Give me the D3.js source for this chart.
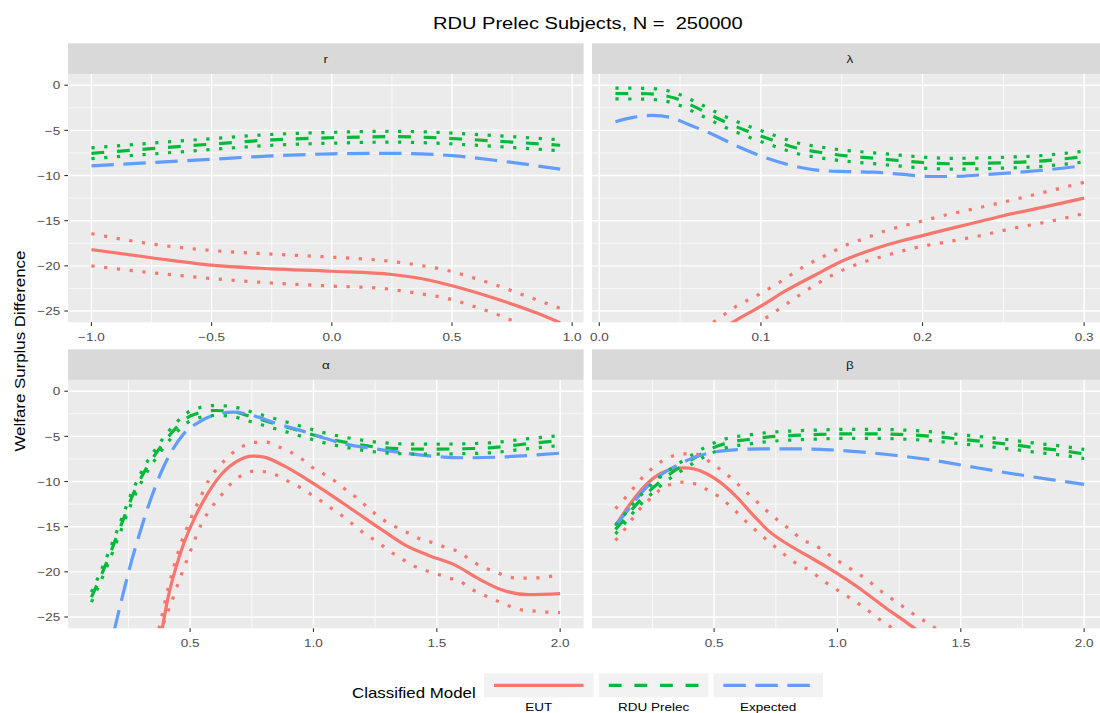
<!DOCTYPE html>
<html><head><meta charset="utf-8">
<script src="https://cdn.jsdelivr.net/npm/d3@7"></script>
<style>
body{margin:0;background:#fff;overflow:hidden}
svg{display:block}
text{font-family:"Liberation Sans",Arial,Helvetica,sans-serif}
</style>
</head><body><svg id="c" width="1100" height="713"></svg>
<script>
// ---------------- DATA ----------------
const chartTitle = "RDU Prelec Subjects, N =  250000";
const yTitle = "Welfare Surplus Difference";
const legendTitle = "Classified Model";
const modelNames = ["EUT", "RDU Prelec", "Expected"];
const panelNames = ["r", "λ", "α", "β"];
const yLimits = [-25, 0];
const yTicks = [-25, -20, -15, -10, -5, 0];
const rTicks = [-1.0, -0.5, 0.0, 0.5, 1.0];
const lTicks = [0.0, 0.1, 0.2, 0.3];
const aTicks = [0.5, 1.0, 1.5, 2.0];
const bTicks = [0.5, 1.0, 1.5, 2.0];

// ---- r ----
const r_EUT = [[-1,-18.2],[-0.75,-19.1],[-0.5,-19.93],[-0.25,-20.33],[0,-20.6],[0.25,-20.96],[0.37,-21.4],[0.5,-22.2],[0.69,-23.7],[0.85,-25.2],[0.95,-26.3]];
const r_EUT_hi = [[-1,-16.43],[-0.78,-17.46],[-0.5,-18.3],[-0.25,-18.7],[0,-19.04],[0.21,-19.4],[0.37,-19.96],[0.48,-20.5],[0.58,-21.25],[0.69,-22.2],[0.79,-23.16],[0.95,-24.7]];
const r_EUT_lo = [[-1,-20.0],[-0.84,-20.5],[-0.5,-21.4],[-0.25,-21.9],[0,-22.24],[0.21,-22.5],[0.37,-23.1],[0.48,-23.6],[0.58,-24.4],[0.69,-25.4],[0.79,-26.5],[0.95,-28.1]];
const r_RDU_x  = [-1,-0.75,-0.5,-0.25,0,0.25,0.4,0.56,0.75,0.95];
const r_RDU    = [-7.54,-7.02,-6.52,-6.05,-5.82,-5.7,-5.78,-5.99,-6.3,-6.65];
const r_RDU_hi = [-6.94,-6.42,-5.92,-5.45,-5.22,-5.1,-5.18,-5.39,-5.7,-6.05];
const r_RDU_lo = [-8.14,-7.62,-7.12,-6.65,-6.42,-6.3,-6.38,-6.59,-6.9,-7.25];
const r_EXP = [[-1,-8.93],[-0.75,-8.57],[-0.5,-8.2],[-0.25,-7.83],[0,-7.6],[0.21,-7.54],[0.37,-7.6],[0.5,-7.8],[0.69,-8.35],[0.95,-9.3]];

// ---- lambda ----
const l_EUT = [[0.01,-36],[0.03,-33],[0.05,-30],[0.07,-27.6],[0.083,-26.2],[0.1,-24.45],[0.116,-22.7],[0.133,-21.07],[0.15,-19.49],[0.17,-18.13],[0.186,-17.28],[0.2,-16.65],[0.219,-15.8],[0.236,-15.07],[0.25,-14.45],[0.277,-13.42],[0.3,-12.5]];
const l_EUT_hi = [[0.01,-33],[0.04,-29.5],[0.071,-26.2],[0.084,-24.56],[0.1,-23.05],[0.112,-21.76],[0.126,-20.15],[0.141,-18.75],[0.155,-17.54],[0.164,-16.98],[0.178,-16.07],[0.195,-15.26],[0.211,-14.52],[0.234,-13.6],[0.25,-12.94],[0.273,-11.95],[0.3,-10.75]];
const l_EUT_lo = [[0.01,-39],[0.05,-33],[0.08,-28.5],[0.102,-25.9],[0.117,-24.08],[0.133,-22.17],[0.147,-20.77],[0.162,-19.67],[0.176,-18.93],[0.195,-18.01],[0.215,-17.35],[0.236,-16.65],[0.257,-15.8],[0.279,-15.07],[0.3,-14.2]];
const l_RDU_x  = [0.01,0.03,0.046,0.061,0.077,0.091,0.107,0.122,0.139,0.153,0.17,0.186,0.203,0.219,0.236,0.252,0.269,0.285,0.3];
const l_RDU    = [-0.92,-0.95,-1.4,-2.57,-4.0,-5.04,-6.07,-6.95,-7.5,-7.83,-8.09,-8.35,-8.6,-8.7,-8.65,-8.57,-8.45,-8.2,-7.9];
const l_RDU_hi = [-0.32,-0.35,-0.8,-1.97,-3.4,-4.44,-5.47,-6.35,-6.9,-7.23,-7.49,-7.75,-8.0,-8.1,-8.05,-7.97,-7.85,-7.6,-7.3];
const l_RDU_lo = [-1.52,-1.55,-2.0,-3.17,-4.6,-5.64,-6.67,-7.55,-8.1,-8.43,-8.69,-8.95,-9.2,-9.3,-9.25,-9.17,-9.05,-8.8,-8.5];
const l_EXP = [[0.01,-4.04],[0.021,-3.57],[0.033,-3.35],[0.044,-3.57],[0.056,-4.41],[0.071,-5.51],[0.085,-6.73],[0.1,-7.83],[0.12,-8.93],[0.137,-9.45],[0.153,-9.56],[0.17,-9.63],[0.186,-9.85],[0.205,-10.11],[0.219,-10.11],[0.236,-9.93],[0.257,-9.67],[0.277,-9.37],[0.3,-8.9]];

// ---- alpha ----
const a_EUT = [[0.1,-62],[0.2,-50],[0.3,-37.5],[0.35,-31.5],[0.388,-26.1],[0.411,-22.8],[0.443,-19.47],[0.474,-16.89],[0.52,-13.94],[0.575,-11.17],[0.629,-9.14],[0.691,-7.74],[0.753,-7.19],[0.8,-7.3],[0.877,-8.22],[0.97,-9.7],[1.064,-11.36],[1.172,-13.38],[1.281,-15.41],[1.374,-17.07],[1.467,-18.18],[1.576,-19.28],[1.669,-20.76],[1.762,-21.98],[1.871,-22.53],[2.0,-22.42]];
const a_EUT_hi = [[0.1,-58],[0.3,-34],[0.38,-25.55],[0.411,-21.83],[0.458,-17.26],[0.497,-14.49],[0.536,-12.09],[0.575,-9.88],[0.621,-8.22],[0.66,-7.12],[0.707,-6.19],[0.753,-5.68],[0.807,-5.64],[0.854,-6.12],[0.908,-6.75],[0.955,-7.56],[0.994,-8.41],[1.04,-9.14],[1.087,-9.96],[1.126,-10.8],[1.172,-11.73],[1.211,-12.65],[1.25,-13.57],[1.297,-14.49],[1.343,-15.15],[1.39,-15.78],[1.436,-16.41],[1.491,-16.81],[1.537,-17.33],[1.592,-17.81],[1.638,-18.73],[1.685,-19.47],[1.731,-19.91],[1.778,-20.46],[1.832,-20.69],[1.887,-20.69],[1.941,-20.58],[2.0,-20.32]];
const a_EUT_lo = [[0.1,-66],[0.3,-36],[0.39,-25.9],[0.427,-23.16],[0.466,-20.2],[0.505,-17.44],[0.543,-14.86],[0.598,-12.46],[0.637,-11.17],[0.668,-10.18],[0.714,-9.25],[0.761,-8.85],[0.815,-8.96],[0.862,-9.44],[0.908,-10.14],[0.955,-10.8],[1.0,-11.61],[1.048,-12.46],[1.087,-13.27],[1.134,-14.12],[1.172,-15.04],[1.219,-15.97],[1.265,-16.78],[1.304,-17.63],[1.351,-18.44],[1.397,-19.21],[1.444,-19.76],[1.498,-20.21],[1.544,-20.65],[1.592,-21.02],[1.638,-21.87],[1.693,-22.6],[1.74,-23.16],[1.786,-23.71],[1.84,-24.19],[1.894,-24.34],[1.941,-24.45],[2.0,-24.52]];
const a_RDU_x  = [0.1,0.148,0.186,0.225,0.264,0.31,0.365,0.427,0.505,0.598,0.66,0.753,0.846,0.94,1.033,1.126,1.234,1.359,1.467,1.592,1.716,1.84,2.0];
const a_RDU    = [-22.8,-19.84,-17.26,-14.49,-11.73,-9.14,-6.75,-4.54,-2.69,-2.14,-2.21,-2.88,-3.61,-4.35,-5.09,-5.64,-6.12,-6.38,-6.42,-6.38,-6.27,-5.9,-5.46];
const a_RDU_hi = [-22.25,-19.29,-16.71,-13.94,-11.18,-8.59,-6.2,-3.99,-2.14,-1.59,-1.66,-2.33,-3.06,-3.8,-4.54,-5.09,-5.57,-5.83,-5.87,-5.83,-5.72,-5.35,-4.91];
const a_RDU_lo = [-23.35,-20.39,-17.81,-15.04,-12.28,-9.69,-7.3,-5.09,-3.24,-2.69,-2.76,-3.43,-4.16,-4.9,-5.64,-6.19,-6.67,-6.93,-6.97,-6.93,-6.82,-6.45,-6.01];
const a_EXP = [[0.1,-37],[0.15,-31.5],[0.194,-26.3],[0.225,-22.8],[0.256,-19.47],[0.295,-15.78],[0.334,-12.46],[0.38,-9.14],[0.427,-6.56],[0.474,-4.72],[0.536,-3.43],[0.613,-2.51],[0.675,-2.32],[0.753,-2.69],[0.846,-3.54],[0.94,-4.28],[1.033,-5.09],[1.126,-5.83],[1.25,-6.38],[1.374,-6.86],[1.498,-7.23],[1.623,-7.37],[1.747,-7.3],[1.871,-7.12],[2.0,-6.86]];

// ---- beta ----
const b_EUT = [[0.1,-14.9],[0.139,-13.27],[0.18,-11.73],[0.227,-10.25],[0.281,-9.14],[0.335,-8.59],[0.376,-8.48],[0.416,-8.59],[0.47,-9.14],[0.524,-10.07],[0.592,-11.73],[0.659,-13.75],[0.727,-15.6],[0.795,-16.89],[0.876,-18.18],[0.957,-19.47],[1.038,-20.87],[1.119,-22.42],[1.2,-24.08],[1.268,-25.37],[1.315,-26.3],[1.5,-30],[2.0,-40]];
const b_EUT_hi = [[0.1,-13.0],[0.139,-11.84],[0.173,-10.73],[0.207,-9.62],[0.247,-8.59],[0.288,-7.74],[0.335,-7.15],[0.382,-6.93],[0.436,-7.0],[0.488,-7.96],[0.531,-8.78],[0.572,-9.7],[0.612,-10.69],[0.653,-11.73],[0.693,-12.72],[0.734,-13.75],[0.774,-14.6],[0.815,-15.49],[0.862,-16.52],[0.903,-16.96],[0.95,-17.81],[0.995,-18.66],[1.038,-19.4],[1.085,-20.21],[1.127,-21.02],[1.169,-21.98],[1.214,-22.86],[1.258,-23.71],[1.301,-24.56],[1.349,-25.37],[1.389,-26.1],[1.6,-30],[2.0,-38]];
const b_EUT_lo = [[0.1,-16.52],[0.136,-15.34],[0.169,-14.12],[0.2,-13.0],[0.236,-12.02],[0.277,-10.99],[0.322,-10.32],[0.376,-10.07],[0.43,-10.32],[0.477,-10.99],[0.522,-11.73],[0.562,-12.65],[0.601,-13.64],[0.639,-14.68],[0.68,-15.67],[0.72,-16.63],[0.761,-17.55],[0.801,-18.44],[0.846,-19.28],[0.889,-19.84],[0.934,-20.83],[0.98,-21.68],[1.024,-22.42],[1.069,-23.23],[1.114,-24.08],[1.157,-25.0],[1.2,-25.81],[1.4,-29.5],[2.0,-40]];
const b_RDU_x  = [0.1,0.132,0.166,0.2,0.234,0.268,0.322,0.362,0.43,0.497,0.565,0.632,0.714,0.822,0.93,1.038,1.146,1.254,1.376,1.484,1.592,1.7,1.808,1.903,2.0];
const b_RDU    = [-15.3,-14.31,-13.13,-12.09,-11.17,-10.32,-9.14,-8.41,-7.23,-6.27,-5.64,-5.38,-5.09,-4.9,-4.79,-4.72,-4.72,-4.79,-4.98,-5.27,-5.57,-5.9,-6.27,-6.56,-6.95];
const b_RDU_hi = [-14.8,-13.81,-12.63,-11.59,-10.67,-9.82,-8.64,-7.91,-6.73,-5.77,-5.14,-4.88,-4.59,-4.4,-4.29,-4.22,-4.22,-4.29,-4.48,-4.77,-5.07,-5.4,-5.77,-6.06,-6.45];
const b_RDU_lo = [-15.8,-14.81,-13.63,-12.59,-11.67,-10.82,-9.64,-8.91,-7.73,-6.77,-6.14,-5.88,-5.59,-5.4,-5.29,-5.22,-5.22,-5.29,-5.48,-5.77,-6.07,-6.4,-6.77,-7.06,-7.45];
const b_EXP = [[0.1,-14.86],[0.139,-13.57],[0.18,-12.09],[0.227,-10.62],[0.281,-9.33],[0.349,-8.22],[0.416,-7.37],[0.497,-6.75],[0.605,-6.45],[0.714,-6.38],[0.835,-6.38],[0.97,-6.49],[1.105,-6.75],[1.24,-7.12],[1.376,-7.6],[1.511,-8.22],[1.646,-8.85],[1.781,-9.44],[1.889,-9.88],[2.0,-10.32]];

// ---------------- BUILD ----------------
const zip = (xs, ys) => xs.map((x, i) => [x, ys[i]]);
const panels = [
  {name: panelNames[0], ticks: rTicks, col: 0, row: 0,
   EUT: r_EUT, EUT_hi: r_EUT_hi, EUT_lo: r_EUT_lo,
   RDU: zip(r_RDU_x, r_RDU), RDU_hi: zip(r_RDU_x, r_RDU_hi), RDU_lo: zip(r_RDU_x, r_RDU_lo), EXP: r_EXP},
  {name: panelNames[1], ticks: lTicks, col: 1, row: 0,
   EUT: l_EUT, EUT_hi: l_EUT_hi, EUT_lo: l_EUT_lo,
   RDU: zip(l_RDU_x, l_RDU), RDU_hi: zip(l_RDU_x, l_RDU_hi), RDU_lo: zip(l_RDU_x, l_RDU_lo), EXP: l_EXP},
  {name: panelNames[2], ticks: aTicks, col: 0, row: 1,
   EUT: a_EUT, EUT_hi: a_EUT_hi, EUT_lo: a_EUT_lo,
   RDU: zip(a_RDU_x, a_RDU), RDU_hi: zip(a_RDU_x, a_RDU_hi), RDU_lo: zip(a_RDU_x, a_RDU_lo), EXP: a_EXP},
  {name: panelNames[3], ticks: bTicks, col: 1, row: 1,
   EUT: b_EUT, EUT_hi: b_EUT_hi, EUT_lo: b_EUT_lo,
   RDU: zip(b_RDU_x, b_RDU), RDU_hi: zip(b_RDU_x, b_RDU_hi), RDU_lo: zip(b_RDU_x, b_RDU_lo), EXP: b_EXP}
];

const COL = {EUT: "#F8766D", RDU: "#00BA38", EXP: "#619CFF"};
const LW = 3.2;
const DASH = {EUT: null, RDU: `${4*LW},${4*LW}`, EXP: `${7*LW},${3*LW}`};
const DOT = `${LW},${3*LW}`;
const TS = 1.155; // horizontal text stretch

const svg = d3.select("#c");
const colX = [68, 592], panelW = 515.6;
const stripTop = [43.3, 349.3], stripH = 30.6, panelH = 248.4;
const fmt = d3.format(".1f");
const yfmt = d3.format("d");

function expand(lo, hi) { const d = (hi - lo) * 0.05; return [lo - d, hi + d]; }
const yDom = expand(yLimits[0], yLimits[1]);

function txt(parent, x, y, s, size, fill, anchor, rot) {
  return parent.append("text")
    .attr("transform", `translate(${x},${y})${rot ? " rotate(" + rot + ")" : ""} scale(${TS},1)`)
    .attr("text-anchor", anchor || "start").attr("font-size", size).attr("fill", fill)
    .style("white-space", "pre").text(s);
}

txt(svg, (colX[0] + colX[1] + panelW) / 2, 28.5, chartTitle, 17.4, "#000", "middle");
txt(svg, 24.5, (stripTop[0] + stripH + stripTop[1] + stripH + panelH) / 2, yTitle, 14.6, "#000", "middle", -90);

const defs = svg.append("defs");

panels.forEach((p, i) => {
  const x0 = colX[p.col], sTop = stripTop[p.row], pTop = sTop + stripH, pBot = pTop + panelH;
  const allX = [];
  ["EUT","EUT_hi","EUT_lo","RDU","RDU_hi","RDU_lo","EXP"].forEach(k => p[k].forEach(d => allX.push(d[0])));
  const xDom = expand(d3.min(allX), d3.max(allX));
  const x = d3.scaleLinear().domain(xDom).range([x0, x0 + panelW]);
  const y = d3.scaleLinear().domain(yDom).range([pBot, pTop]);

  const g = svg.append("g");
  g.append("rect").attr("x", x0).attr("y", pTop).attr("width", panelW).attr("height", panelH).attr("fill", "#EBEBEB");

  const step = p.ticks[1] - p.ticks[0];
  const xMinor = [];
  for (let k = -1; k < p.ticks.length; k++) {
    const v = p.ticks[0] + (k + 0.5) * step;
    if (v > xDom[0] && v < xDom[1]) xMinor.push(v);
  }
  const yStep = yTicks[1] - yTicks[0];
  const yMinor = [];
  for (let k = -1; k < yTicks.length; k++) {
    const v = yTicks[0] + (k + 0.5) * yStep;
    if (v > yDom[0] && v < yDom[1]) yMinor.push(v);
  }
  g.selectAll(".ymin").data(yMinor).join("line").attr("x1", x0).attr("x2", x0 + panelW)
    .attr("y1", d => y(d)).attr("y2", d => y(d)).attr("stroke", "#fff").attr("stroke-width", 0.71);
  g.selectAll(".xmin").data(xMinor).join("line").attr("y1", pTop).attr("y2", pBot)
    .attr("x1", d => x(d)).attr("x2", d => x(d)).attr("stroke", "#fff").attr("stroke-width", 0.71);
  g.selectAll(".ymaj").data(yTicks).join("line").attr("x1", x0).attr("x2", x0 + panelW)
    .attr("y1", d => y(d)).attr("y2", d => y(d)).attr("stroke", "#fff").attr("stroke-width", 1.42);
  g.selectAll(".xmaj").data(p.ticks).join("line").attr("y1", pTop).attr("y2", pBot)
    .attr("x1", d => x(d)).attr("x2", d => x(d)).attr("stroke", "#fff").attr("stroke-width", 1.42);

  defs.append("clipPath").attr("id", "clip" + i).append("rect")
    .attr("x", x0).attr("y", pTop).attr("width", panelW).attr("height", panelH);
  const lg = g.append("g").attr("clip-path", `url(#clip${i})`);
  const line = d3.line().x(d => x(d[0])).y(d => y(d[1])).curve(d3.curveMonotoneX);
  const draw = (data, color, dash) => lg.append("path").datum(data).attr("d", line)
    .attr("fill", "none").attr("stroke", color).attr("stroke-width", LW)
    .attr("stroke-dasharray", dash).attr("stroke-linecap", "butt").attr("stroke-linejoin", "round");

  draw(p.EUT, COL.EUT, DASH.EUT);
  draw(p.RDU, COL.RDU, DASH.RDU);
  draw(p.EXP, COL.EXP, DASH.EXP);
  draw(p.EUT_hi, COL.EUT, DOT);
  draw(p.EUT_lo, COL.EUT, DOT);
  draw(p.RDU_hi, COL.RDU, DOT);
  draw(p.RDU_lo, COL.RDU, DOT);

  g.append("rect").attr("x", x0).attr("y", sTop).attr("width", panelW).attr("height", stripH).attr("fill", "#D9D9D9");
  txt(g, x0 + panelW / 2, sTop + stripH / 2 + 4, p.name, 11.7, "#1A1A1A", "middle");

  g.selectAll(".xt").data(p.ticks).join("line").attr("x1", d => x(d)).attr("x2", d => x(d))
    .attr("y1", pBot).attr("y2", pBot + 3.67).attr("stroke", "#333").attr("stroke-width", 1.1);
  p.ticks.forEach(t => txt(g, x(t), pBot + 18.8, fmt(t), 11.7, "#4D4D4D", "middle"));

  if (p.col === 0) {
    g.selectAll(".yt").data(yTicks).join("line").attr("x1", x0 - 3.67).attr("x2", x0)
      .attr("y1", d => y(d)).attr("y2", d => y(d)).attr("stroke", "#333").attr("stroke-width", 1.1);
    yTicks.forEach(t => txt(g, x0 - 7.8, y(t) + 4.2, yfmt(t), 11.7, "#4D4D4D", "end"));
  }
});

// legend
const lgY = 673.3, keyW = 109.6, keyH = 24;
const keyX = [484, 598.8, 713.4];
txt(svg, 352, 698, legendTitle, 14.6, "#000", "start");
const keys = [{c: COL.EUT, d: DASH.EUT}, {c: COL.RDU, d: DASH.RDU}, {c: COL.EXP, d: DASH.EXP}];
keys.forEach((k, i) => {
  svg.append("rect").attr("x", keyX[i]).attr("y", lgY).attr("width", keyW).attr("height", keyH).attr("fill", "#F2F2F2");
  svg.append("line").attr("x1", keyX[i] + 10).attr("x2", keyX[i] + keyW - 10).attr("y1", lgY + keyH / 2).attr("y2", lgY + keyH / 2)
    .attr("stroke", k.c).attr("stroke-width", LW).attr("stroke-dasharray", k.d);
  txt(svg, keyX[i] + keyW / 2, 711, modelNames[i], 11.7, "#000", "middle");
});
</script>
</body></html>
